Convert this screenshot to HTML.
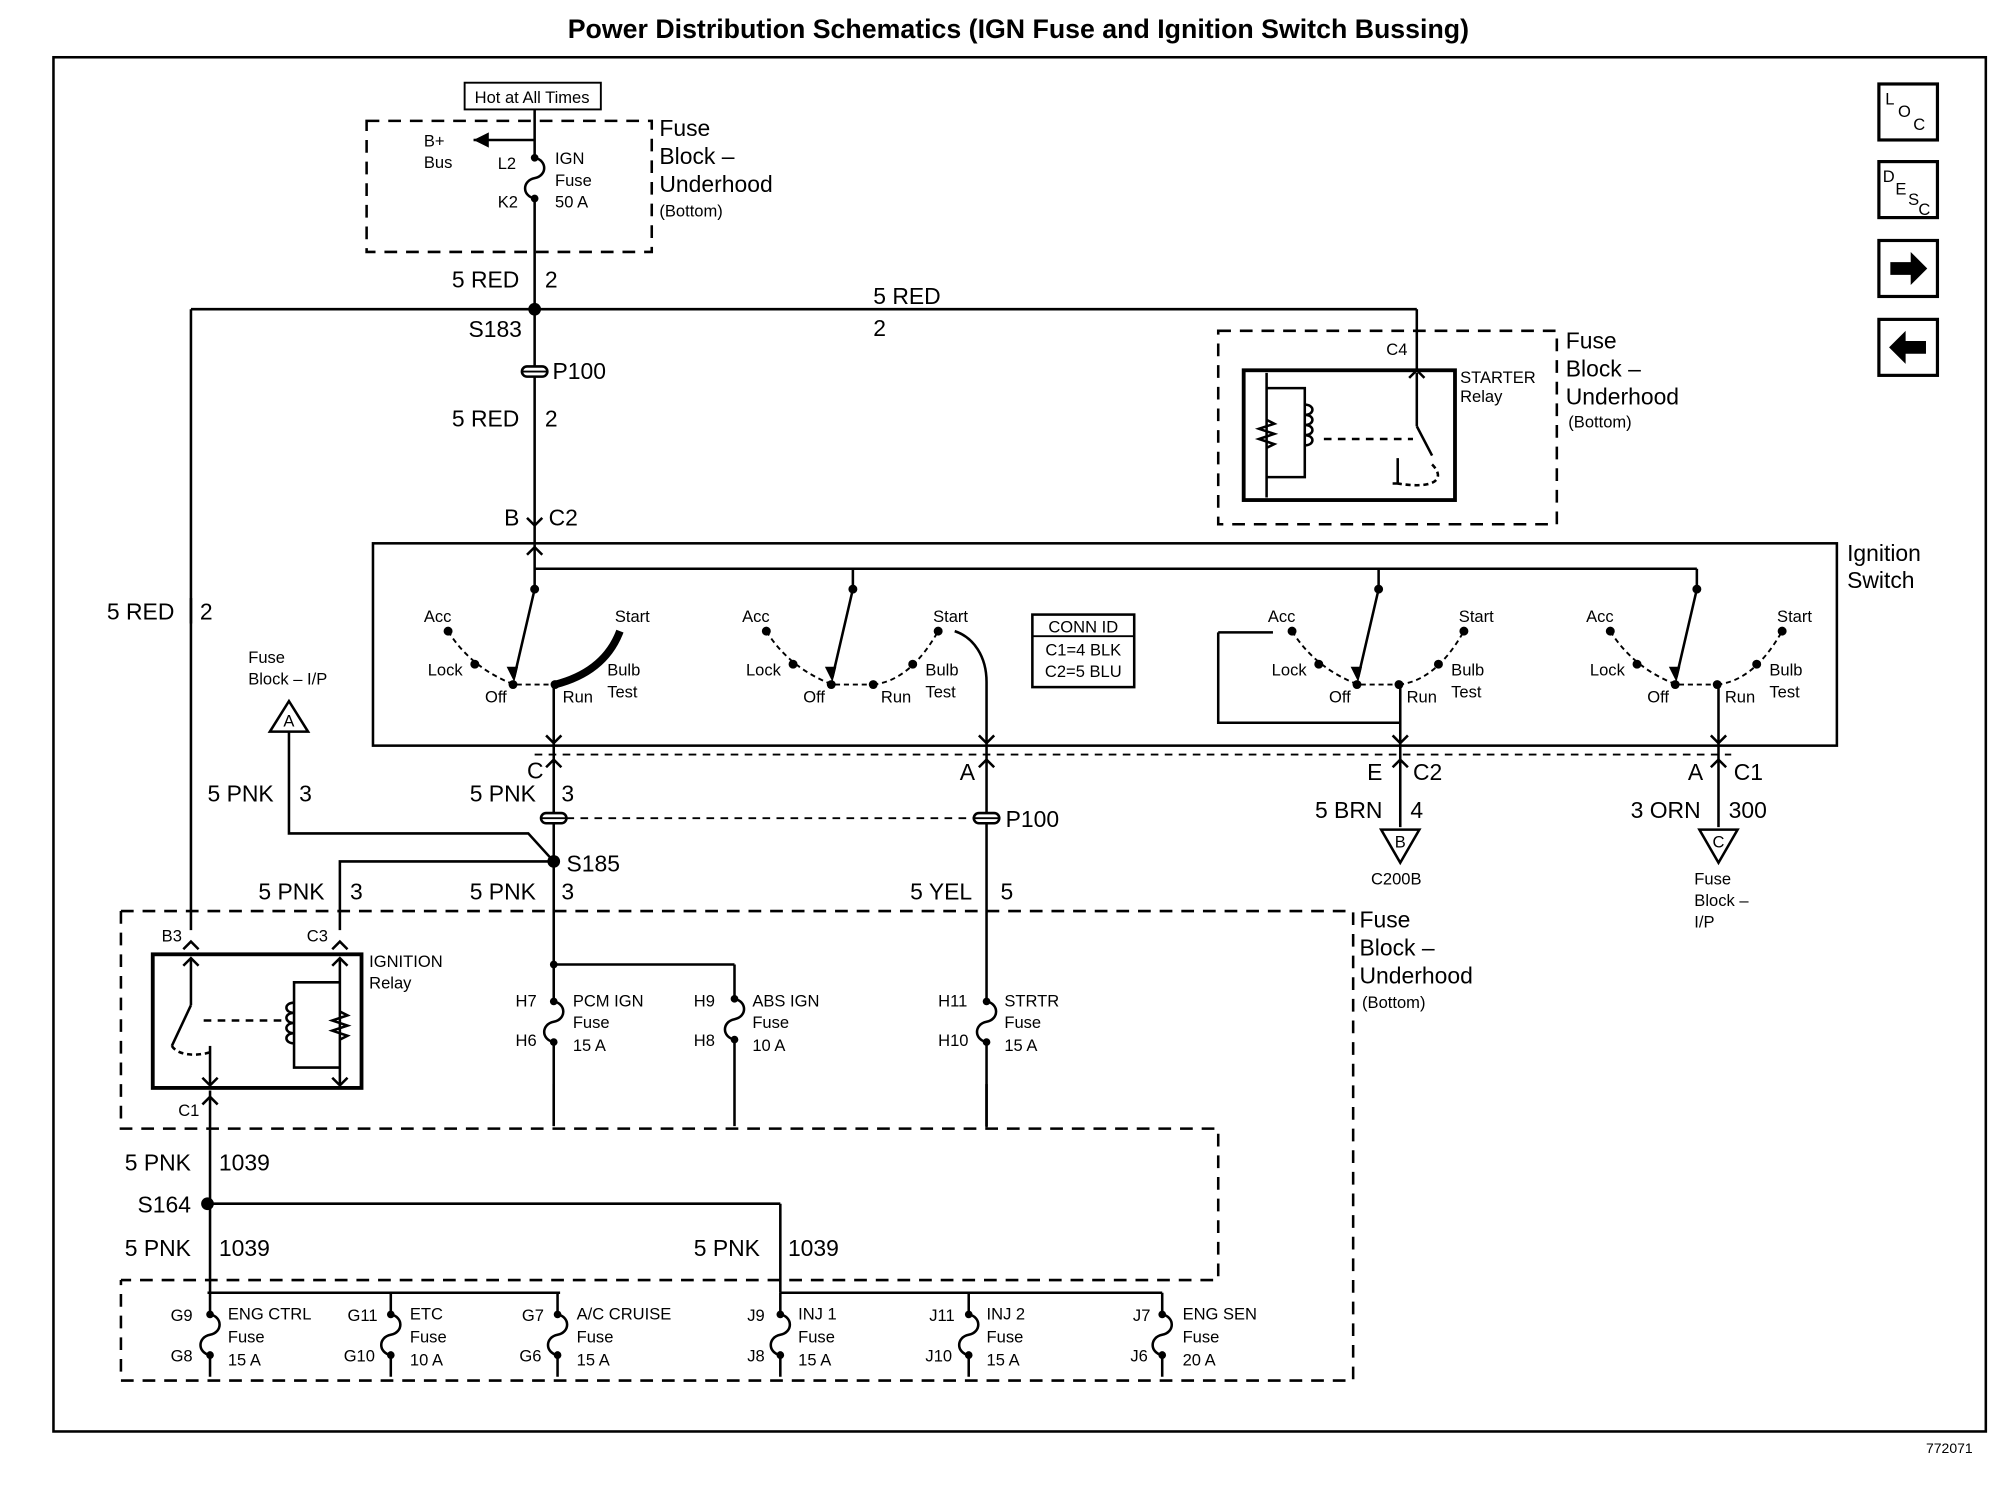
<!DOCTYPE html>
<html><head><meta charset="utf-8"><style>
html,body{margin:0;padding:0;background:#fff;}
svg{display:block}
text{font-family:"Liberation Sans",Arial,sans-serif;fill:#000}
.w{font-size:18px}
.s{font-size:13px}
.m{font-size:15px}
.l{font-size:18px}
</style></head><body>
<svg width="1996" height="1504" viewBox="0 0 1568 1182" preserveAspectRatio="none" xmlns="http://www.w3.org/2000/svg">
<defs>
<g id="fuse"><circle cx="0" cy="0" r="3"/><path d="M0,0 c10,2 10,14 0,16 c-10,2 -10,14 0,16" fill="none" stroke="#000" stroke-width="2"/><circle cx="0" cy="32" r="3"/></g>
<g id="cup"><path d="M-6,-6 L0,0 L6,-6" fill="none" stroke="#000" stroke-width="2"/></g>
<g id="cdn"><path d="M-6,6 L0,0 L6,6" fill="none" stroke="#000" stroke-width="2"/></g>
<g id="p100"><rect x="-10" y="-4" width="20" height="8" rx="4" fill="#fff" stroke="#000" stroke-width="2"/><line x1="-10" y1="0" x2="10" y2="0" stroke="#000" stroke-width="1.5"/></g>
</defs>
<text x="800" y="30" text-anchor="middle" font-weight="bold" font-size="21">Power Distribution Schematics (IGN Fuse and Ignition Switch Bussing)</text>
<rect x="42" y="45" width="1518" height="1080" fill="none" stroke="#000" stroke-width="2"/>
<text x="1513" y="1142" font-size="11">772071</text>

<!-- right icons -->
<g fill="none" stroke="#000" stroke-width="2.5">
<rect x="1476" y="66" width="46" height="44"/><rect x="1476" y="127" width="46" height="44"/>
<rect x="1476" y="189" width="46" height="44"/><rect x="1476" y="251" width="46" height="44"/>
</g>
<text x="1481" y="82" class="s">L</text><text x="1491" y="92" class="s">O</text><text x="1503" y="102" class="s">C</text>
<text x="1479" y="143" class="s">D</text><text x="1489" y="153" class="s">E</text><text x="1499" y="161" class="s">S</text><text x="1507" y="169" class="s">C</text>
<path d="M1485,206 h16 v-8 l13,13 l-13,13 v-8 h-16z"/>
<path d="M1513,268 h-16 v-8 l-13,13 l13,13 v-8 h16z"/>

<g stroke="#000" stroke-width="2" fill="none">
<!-- top fuse block -->
<rect x="365" y="65" width="107" height="21" stroke-width="1.5"/>
<rect x="288" y="95" width="224" height="103" stroke-dasharray="10,7"/>
<line x1="420" y1="86" x2="420" y2="124"/>
<line x1="420" y1="110" x2="372" y2="110"/>
<line x1="420" y1="156" x2="420" y2="428"/>
<line x1="150" y1="243" x2="1113" y2="243"/>
<line x1="1113" y1="243" x2="1113" y2="291"/>
<line x1="150" y1="243" x2="150" y2="731"/>
<!-- starter relay -->
<rect x="957" y="260" width="266" height="152" stroke-dasharray="10,7"/>
<rect x="977" y="291" width="166" height="102" stroke-width="3"/>
<line x1="995" y1="293" x2="995" y2="391"/>
<path d="M995,305 h30 v70 h-30"/>
<path d="M1025,318 c8,0 8,8 0,8 c8,0 8,8 0,8 c8,0 8,8 0,8 c8,0 8,8 0,8"/>
<path d="M995,330 l6,3 l-12,4 l12,4 l-12,4 l12,4 l-6,3"/>
<line x1="1113" y1="293" x2="1113" y2="335"/>
<line x1="1113" y1="335" x2="1125" y2="358"/>
<path d="M1098,360 v20 h-4" />
<path d="M1125,365 c10,10 5,20 -27,15" stroke-dasharray="4,3"/>
<line x1="1040" y1="345" x2="1110" y2="345" stroke-dasharray="6,5"/>
<!-- ignition switch box -->
<rect x="293" y="427" width="1150" height="159"/>
<line x1="420" y1="447" x2="1333" y2="447"/>
<line x1="420" y1="428" x2="420" y2="463"/>
<line x1="670" y1="447" x2="670" y2="463"/>
<line x1="1083" y1="447" x2="1083" y2="463"/>
<line x1="1333" y1="447" x2="1333" y2="463"/>
<path d="M957,497 h43 M957,497 v71 h143"/>
<!-- outputs -->
<line x1="435" y1="538" x2="435" y2="885"/>
<path d="M750,496 c15,5 25,20 25,40 v350"/>
<line x1="1100" y1="538" x2="1100" y2="650"/>
<line x1="1350" y1="538" x2="1350" y2="650"/>
<line x1="420" y1="593" x2="1360" y2="593" stroke-dasharray="6,5" stroke-width="1.5"/>
<line x1="445" y1="643" x2="765" y2="643" stroke-dasharray="6,5" stroke-width="1.5"/>
<!-- fuse block IP A -->
<path d="M227,575 V655 H415 L435,677"/>
<path d="M267,731 V677 H435"/>
<!-- lower fuse block -->
<path d="M95,716 H1063 V1085 H95 V1006" stroke-dasharray="10,7"/>
<path d="M95,716 V887 H957 V1006 H95" stroke-dasharray="10,7"/>
<line x1="435" y1="758" x2="577" y2="758"/>
<line x1="577" y1="758" x2="577" y2="785"/>
<line x1="577" y1="817" x2="577" y2="885"/>
<line x1="435" y1="852" x2="435" y2="885"/>
<line x1="775" y1="852" x2="775" y2="885"/>
<!-- ign relay -->
<rect x="120" y="750" width="164" height="105" stroke-width="3"/>
<line x1="150" y1="753" x2="150" y2="790"/>
<line x1="150" y1="790" x2="135" y2="822"/>
<path d="M135,822 c5,8 20,8 30,5" stroke-dasharray="4,3"/>
<line x1="165" y1="822" x2="165" y2="853"/>
<line x1="267" y1="753" x2="267" y2="853"/>
<path d="M267,772 h-36 v67 h36"/>
<path d="M231,788 c-8,0 -8,8 0,8 c-8,0 -8,8 0,8 c-8,0 -8,8 0,8 c-8,0 -8,8 0,8"/>
<path d="M267,795 l6,3 l-12,4 l12,4 l-12,4 l12,4 l-6,3"/>
<line x1="160" y1="802" x2="225" y2="802" stroke-dasharray="6,5"/>
<line x1="165" y1="857" x2="165" y2="1016"/>
<line x1="163" y1="946" x2="613" y2="946"/>
<line x1="613" y1="946" x2="613" y2="1016"/>
<line x1="163" y1="1016" x2="440" y2="1016"/>
<line x1="613" y1="1016" x2="913" y2="1016"/>
<!-- lower fuse stubs -->
<g>
<line x1="165" y1="1016" x2="165" y2="1082"/><line x1="307" y1="1016" x2="307" y2="1082"/><line x1="438" y1="1016" x2="438" y2="1082"/>
<line x1="613" y1="1016" x2="613" y2="1082"/><line x1="761" y1="1016" x2="761" y2="1082"/><line x1="913" y1="1016" x2="913" y2="1082"/>
</g>
</g>
<!-- white behind fuses -->
<g fill="#fff">
<rect x="150" y="1034" width="30" height="28"/><rect x="292" y="1034" width="30" height="28"/><rect x="423" y="1034" width="30" height="28"/>
<rect x="598" y="1034" width="30" height="28"/><rect x="746" y="1034" width="30" height="28"/><rect x="898" y="1034" width="30" height="28"/>
<rect x="405" y="124" width="30" height="32"/><rect x="420" y="787" width="30" height="30"/><rect x="760" y="787" width="30" height="30"/>
</g>
<use href="#fuse" x="420" y="124"/>
<use href="#fuse" x="435" y="787" transform="translate(0,0)"/>
<use href="#fuse" x="577" y="785"/>
<use href="#fuse" x="775" y="787"/>
<use href="#fuse" x="165" y="1033"/><use href="#fuse" x="307" y="1033"/><use href="#fuse" x="438" y="1033"/>
<use href="#fuse" x="613" y="1033"/><use href="#fuse" x="761" y="1033"/><use href="#fuse" x="913" y="1033"/>
<path d="M372,110 l12,-6 v12z"/>
<circle cx="420" cy="243" r="5"/><circle cx="435" cy="677" r="5"/><circle cx="163" cy="946" r="5"/>
<circle cx="435" cy="758" r="3"/>
<use href="#p100" x="420" y="292"/><use href="#p100" x="435" y="643"/><use href="#p100" x="775" y="643"/>
<!-- connectors -->
<use href="#cdn" x="1113" y="291"/><use href="#cup" x="420" y="413"/><use href="#cdn" x="420" y="430"/>
<use href="#cup" x="435" y="584"/><use href="#cdn" x="435" y="597"/>
<use href="#cup" x="775" y="584"/><use href="#cdn" x="775" y="597"/>
<use href="#cup" x="1100" y="584"/><use href="#cdn" x="1100" y="597"/>
<use href="#cup" x="1350" y="584"/><use href="#cdn" x="1350" y="597"/>
<use href="#cdn" x="150" y="740"/><use href="#cdn" x="267" y="740"/><use href="#cdn" x="150" y="753"/><use href="#cdn" x="267" y="753"/>
<use href="#cup" x="165" y="853"/><use href="#cup" x="267" y="853"/><use href="#cdn" x="165" y="862"/>
<!-- triangles -->
<g fill="#fff" stroke="#000" stroke-width="2">
<path d="M212,575 L242,575 L227,551z"/>
<path d="M1085,652 L1115,652 L1100,678z"/>
<path d="M1335,652 L1365,652 L1350,678z"/>
</g>
<text x="227" y="571" text-anchor="middle" class="s">A</text>
<text x="1100" y="666" text-anchor="middle" class="s">B</text>
<text x="1350" y="666" text-anchor="middle" class="s">C</text>

<!-- switch sections -->
<g id="sw1">
<g stroke="#000" stroke-width="2" fill="none">
<line x1="420" y1="463" x2="404" y2="532"/>
<path d="M352,496 Q370,525 404,538 L436,538" stroke-dasharray="4,3" stroke-width="1.5"/>
</g>
<path d="M398,524 l6,12 l3,-12z"/>
<circle cx="420" cy="463" r="3.5"/><circle cx="352" cy="496" r="3.5"/><circle cx="373" cy="522" r="3.5"/><circle cx="403" cy="538" r="3.5"/><circle cx="436" cy="538" r="3.5"/>
<text x="333" y="489" class="s">Acc</text><text x="336" y="531" class="s">Lock</text><text x="381" y="552" class="s">Off</text><text x="442" y="552" class="s">Run</text>
</g>
<path d="M436,538 Q475,528 487,496" stroke="#000" stroke-width="6" fill="none"/>
<text x="483" y="489" class="s">Start</text><text x="477" y="531" class="s">Bulb</text><text x="477" y="548" class="s">Test</text>
<g id="sw2p">
<use href="#sw1" x="250"/>
<path d="M686,538 Q715,535 737,496" stroke="#000" stroke-width="1.5" stroke-dasharray="4,3" fill="none"/>
<circle cx="717" cy="522" r="3.5"/><circle cx="737" cy="496" r="3.5"/>
<text x="733" y="489" class="s">Start</text><text x="727" y="531" class="s">Bulb</text><text x="727" y="548" class="s">Test</text>
</g>
<use href="#sw2p" x="413"/>
<use href="#sw2p" x="663"/>

<!-- CONN ID -->
<rect x="811" y="483" width="80" height="57" fill="none" stroke="#000" stroke-width="2"/>
<line x1="811" y1="500" x2="891" y2="500" stroke="#000" stroke-width="1.5"/>
<text x="851" y="497" text-anchor="middle" class="s">CONN ID</text>
<text x="851" y="515" text-anchor="middle" class="s">C1=4 BLK</text>
<text x="851" y="532" text-anchor="middle" class="s">C2=5 BLU</text>

<!-- labels -->
<text x="418" y="81" text-anchor="middle" class="s">Hot at All Times</text>
<text x="333" y="115" class="s">B+</text><text x="333" y="132" class="s">Bus</text>
<text x="391" y="133" class="s">L2</text><text x="391" y="163" class="s">K2</text>
<text x="436" y="129" class="s">IGN</text><text x="436" y="146" class="s">Fuse</text><text x="436" y="163" class="s">50 A</text>
<text x="518" y="107" class="l">Fuse</text><text x="518" y="129" class="l">Block –</text><text x="518" y="151" class="l">Underhood</text><text x="518" y="170" class="s">(Bottom)</text>
<text x="355" y="226" class="w">5 RED</text><text x="428" y="226" class="w">2</text>
<text x="686" y="239" class="w">5 RED</text><text x="686" y="264" class="w">2</text>
<text x="368" y="265" class="w">S183</text>
<text x="434" y="298" class="w">P100</text>
<text x="355" y="335" class="w">5 RED</text><text x="428" y="335" class="w">2</text>
<text x="396" y="413" class="w">B</text><text x="431" y="413" class="w">C2</text>
<text x="1089" y="279" class="s">C4</text>
<text x="1147" y="301" class="s">STARTER</text><text x="1147" y="316" class="s">Relay</text>
<text x="1230" y="274" class="l">Fuse</text><text x="1230" y="296" class="l">Block –</text><text x="1230" y="318" class="l">Underhood</text><text x="1232" y="336" class="s">(Bottom)</text>
<text x="1451" y="441" class="l">Ignition</text><text x="1451" y="462" class="l">Switch</text>
<text x="84" y="487" class="w">5 RED</text><text x="157" y="487" class="w">2</text>
<line x1="150" y1="470" x2="150" y2="490" stroke="#000" stroke-width="2"/>
<text x="195" y="521" class="s">Fuse</text><text x="195" y="538" class="s">Block – I/P</text>
<text x="414" y="612" class="w">C</text><text x="754" y="613" class="w">A</text>
<text x="1074" y="613" class="w">E</text><text x="1110" y="613" class="w">C2</text>
<text x="1326" y="613" class="w">A</text><text x="1362" y="613" class="w">C1</text>
<text x="163" y="630" class="w">5 PNK</text><text x="235" y="630" class="w">3</text>
<text x="369" y="630" class="w">5 PNK</text><text x="441" y="630" class="w">3</text>
<text x="790" y="650" class="w">P100</text>
<text x="1033" y="643" class="w">5 BRN</text><text x="1108" y="643" class="w">4</text>
<text x="1281" y="643" class="w">3 ORN</text><text x="1358" y="643" class="w">300</text>
<text x="1077" y="695" class="s">C200B</text>
<text x="1331" y="695" class="s">Fuse</text><text x="1331" y="712" class="s">Block –</text><text x="1331" y="729" class="s">I/P</text>
<text x="445" y="685" class="w">S185</text>
<text x="203" y="707" class="w">5 PNK</text><text x="275" y="707" class="w">3</text>
<text x="369" y="707" class="w">5 PNK</text><text x="441" y="707" class="w">3</text>
<text x="715" y="707" class="w">5 YEL</text><text x="786" y="707" class="w">5</text>
<text x="1068" y="729" class="l">Fuse</text><text x="1068" y="751" class="l">Block –</text><text x="1068" y="773" class="l">Underhood</text><text x="1070" y="792" class="s">(Bottom)</text>
<text x="127" y="740" class="s">B3</text><text x="241" y="740" class="s">C3</text>
<text x="290" y="760" class="s">IGNITION</text><text x="290" y="777" class="s">Relay</text>
<text x="140" y="877" class="s">C1</text>
<text x="405" y="791" class="s">H7</text><text x="405" y="822" class="s">H6</text>
<text x="450" y="791" class="s">PCM IGN</text><text x="450" y="808" class="s">Fuse</text><text x="450" y="826" class="s">15 A</text>
<text x="545" y="791" class="s">H9</text><text x="545" y="822" class="s">H8</text>
<text x="591" y="791" class="s">ABS IGN</text><text x="591" y="808" class="s">Fuse</text><text x="591" y="826" class="s">10 A</text>
<text x="737" y="791" class="s">H11</text><text x="737" y="822" class="s">H10</text>
<text x="789" y="791" class="s">STRTR</text><text x="789" y="808" class="s">Fuse</text><text x="789" y="826" class="s">15 A</text>
<text x="98" y="920" class="w">5 PNK</text><text x="172" y="920" class="w">1039</text>
<text x="108" y="953" class="w">S164</text>
<text x="98" y="987" class="w">5 PNK</text><text x="172" y="987" class="w">1039</text>
<text x="545" y="987" class="w">5 PNK</text><text x="619" y="987" class="w">1039</text>
<g class="s">
<text x="134" y="1038" class="s">G9</text><text x="134" y="1070" class="s">G8</text>
<text x="179" y="1037" class="s">ENG CTRL</text><text x="179" y="1055" class="s">Fuse</text><text x="179" y="1073" class="s">15 A</text>
<text x="273" y="1038" class="s">G11</text><text x="270" y="1070" class="s">G10</text>
<text x="322" y="1037" class="s">ETC</text><text x="322" y="1055" class="s">Fuse</text><text x="322" y="1073" class="s">10 A</text>
<text x="410" y="1038" class="s">G7</text><text x="408" y="1070" class="s">G6</text>
<text x="453" y="1037" class="s">A/C CRUISE</text><text x="453" y="1055" class="s">Fuse</text><text x="453" y="1073" class="s">15 A</text>
<text x="587" y="1038" class="s">J9</text><text x="587" y="1070" class="s">J8</text>
<text x="627" y="1037" class="s">INJ 1</text><text x="627" y="1055" class="s">Fuse</text><text x="627" y="1073" class="s">15 A</text>
<text x="730" y="1038" class="s">J11</text><text x="727" y="1070" class="s">J10</text>
<text x="775" y="1037" class="s">INJ 2</text><text x="775" y="1055" class="s">Fuse</text><text x="775" y="1073" class="s">15 A</text>
<text x="890" y="1038" class="s">J7</text><text x="888" y="1070" class="s">J6</text>
<text x="929" y="1037" class="s">ENG SEN</text><text x="929" y="1055" class="s">Fuse</text><text x="929" y="1073" class="s">20 A</text>
</g>
</svg>
</body></html>
